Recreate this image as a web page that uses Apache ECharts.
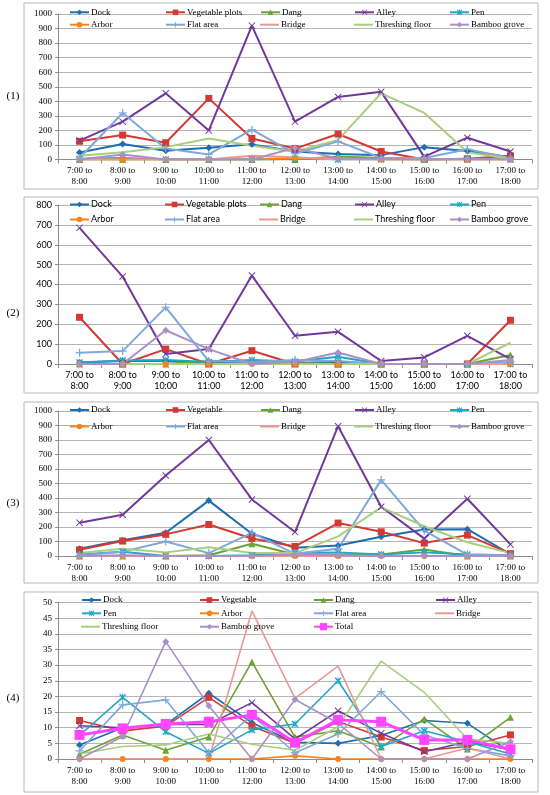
<!DOCTYPE html>
<html><head><meta charset="utf-8">
<script src="https://cdn.jsdelivr.net/npm/echarts@6/dist/echarts.min.js"></script>
<style>html,body{margin:0;padding:0;background:#fff}#c{width:550px;height:795px}</style>
</head><body><div id="c"></div>
<script>
// ---------- categories ----------
const categories = ['7:00 to\n8:00','8:00 to\n9:00','9:00 to\n10:00','10:00 to\n11:00','11:00 to\n12:00','12:00 to\n13:00','13:00 to\n14:00','14:00 to\n15:00','15:00 to\n16:00','16:00 to\n17:00','17:00 to\n18:00'];
const panelLabels = ['(1)','(2)','(3)','(4)'];
const yTicks1 = [0,100,200,300,400,500,600,700,800,900,1000];
const yTicks2 = [0,100,200,300,400,500,600,700,800];
const yTicks3 = [0,100,200,300,400,500,600,700,800,900,1000];
const yTicks4 = [0,5,10,15,20,25,30,35,40,45,50];

// ---------- panel (1) ----------
const p1Dock      = [48,106,60,80,104,55,37,30,85,58,15];
const p1Vegetable = [125,168,115,420,145,75,175,55,0,5,25];
const p1Dang      = [0,0,0,0,0,0,20,10,0,5,5];
const p1Alley     = [130,260,455,200,920,260,430,465,20,150,55];
const p1Pen       = [5,10,0,0,0,5,0,0,0,0,0];
const p1Arbor     = [0,0,0,0,0,10,8,0,0,0,0];
const p1Flat      = [10,320,75,35,205,40,125,10,10,70,10];
const p1Bridge    = [0,0,0,0,25,15,0,0,0,0,0];
const p1Threshing = [25,50,85,145,95,55,135,455,320,50,5];
const p1Bamboo    = [0,35,0,0,0,80,5,5,0,5,0];

// ---------- panel (2) ----------
const p2Dock      = [8,15,15,5,10,5,10,0,0,0,0];
const p2Vegetable = [235,0,75,0,67,0,0,0,0,0,220];
const p2Dang      = [0,0,0,15,15,5,0,0,0,0,45];
const p2Alley     = [685,440,50,75,445,142,162,15,33,142,25];
const p2Pen       = [8,18,20,10,20,12,37,0,0,0,0];
const p2Arbor     = [0,0,0,0,0,0,0,0,0,0,0];
const p2Flat      = [57,65,285,15,10,20,15,0,0,0,10];
const p2Bridge    = [0,0,0,0,0,0,0,0,0,0,0];
const p2Threshing = [0,0,0,0,0,0,0,0,0,0,107];
const p2Bamboo    = [0,0,170,75,0,10,58,0,0,0,20];

// ---------- panel (3) ----------
const p3Dock      = [50,108,160,382,153,57,73,133,183,185,12];
const p3Vegetable = [43,103,149,217,121,66,227,167,89,144,16];
const p3Dang      = [0,0,0,5,85,10,10,10,45,0,0];
const p3Alley     = [230,285,555,800,390,165,895,340,120,395,80];
const p3Pen       = [10,30,0,0,5,20,25,10,25,10,5];
const p3Arbor     = [0,0,0,0,0,0,0,0,0,0,0];
const p3Flat      = [5,30,100,20,160,15,50,525,175,10,5];
const p3Bridge    = [0,0,0,0,0,0,0,0,0,0,0];
const p3Threshing = [20,50,25,60,20,20,135,335,205,95,20];
const p3Bamboo    = [0,5,0,0,0,10,5,0,0,0,0];

// ---------- panel (4) ----------
const p4Dock      = [4.5,10,11,21,11.6,5.3,5,7.5,12.3,11.4,2.3];
const p4Vegetable = [12.3,9,10.5,19.7,10.5,5,12,7,2.7,4,7.7];
const p4Dang      = [1.5,7.7,2.8,7,31,7,9,3.8,12.8,3.2,13.3];
const p4Alley     = [10.6,10,11,11,18,6.4,15.4,8.2,2.3,5.5,3];
const p4Pen       = [7.5,19.7,8.7,1.8,9.3,11.2,25,4,9,5.5,1.6];
const p4Arbor     = [0,0,0,0,0,1,0,0,0,0,0];
const p4Flat      = [2.6,17.3,18.9,2,14,2,8,21.5,7.7,3.4,1];
const p4Bridge    = [0,0,0,0,47.3,19.4,29.7,0,0,3.5,0];
const p4Threshing = [1.6,4,4.5,8,4.7,2.8,10.3,31.3,21.3,6.4,5];
const p4Bamboo    = [0,7.2,37.5,17,0,19,11.4,0,0,0,5.5];
const p4Total     = [7.7,9.8,11.2,11.9,14.1,5.2,12.5,11.9,6.1,6.1,3.1];

// ---------- styles ----------
const SYM_X = 'path://M0,1L1,0L5,4L9,0L10,1L6,5L10,9L9,10L5,6L1,10L0,9L4,5Z';
const SYM_AST = 'path://M0,1.5L1.5,0L5,3.5L8.5,0L10,1.5L6.5,5L10,8.5L8.5,10L5,6.5L1.5,10L0,8.5L3.5,5Z M4.3,0L5.7,0L5.7,10L4.3,10Z';
const SYM_PLUS = 'path://M4.2,0L5.8,0L5.8,4.2L10,4.2L10,5.8L5.8,5.8L5.8,10L4.2,10L4.2,5.8L0,5.8L0,4.2L4.2,4.2Z';
const STY = {
  dock:{color:'#1d6db4',symbol:'diamond',size:7},
  veg:{color:'#d23a33',symbol:'rect',size:7},
  dang:{color:'#6aa436',symbol:'triangle',size:7},
  alley:{color:'#70389c',symbol:SYM_X,size:7},
  pen:{color:'#1fa6c8',symbol:SYM_AST,size:7},
  arbor:{color:'#f5841f',symbol:'circle',size:6},
  flat:{color:'#7ea8dc',symbol:SYM_PLUS,size:8},
  bridge:{color:'#ec9794',symbol:'none',size:0},
  thresh:{color:'#a8cf7c',symbol:'none',size:0},
  bamboo:{color:'#a991c6',symbol:'diamond',size:7},
  total:{color:'#ff45ff',symbol:'rect',size:10}
};

const SERIF = 'Liberation Serif';
const SANS = 'Lato';
const panelFont = [SERIF, SANS, SERIF, SERIF];

// grid layout (px)
const grids = [
  {left:58, right:18, top:14, height:145.5},
  {left:58, right:18, top:205, height:159},
  {left:58, right:18, top:411, height:145},
  {left:58, right:18, top:602.5, height:156.5}
];
const yMax = [1000,800,1000,50];
const yInt = [100,100,100,5];

const panels = [
  [['Dock','dock',p1Dock],['Vegetable plots','veg',p1Vegetable],['Dang','dang',p1Dang],['Alley','alley',p1Alley],['Pen','pen',p1Pen],
   ['Arbor','arbor',p1Arbor],['Flat area','flat',p1Flat],['Bridge','bridge',p1Bridge],['Threshing floor','thresh',p1Threshing],['Bamboo grove','bamboo',p1Bamboo]],
  [['Dock','dock',p2Dock],['Vegetable plots','veg',p2Vegetable],['Dang','dang',p2Dang],['Alley','alley',p2Alley],['Pen','pen',p2Pen],
   ['Arbor','arbor',p2Arbor],['Flat area','flat',p2Flat],['Bridge','bridge',p2Bridge],['Threshing floor','thresh',p2Threshing],['Bamboo grove','bamboo',p2Bamboo]],
  [['Dock','dock',p3Dock],['Vegetable','veg',p3Vegetable],['Dang','dang',p3Dang],['Alley','alley',p3Alley],['Pen','pen',p3Pen],
   ['Arbor','arbor',p3Arbor],['Flat area','flat',p3Flat],['Bridge','bridge',p3Bridge],['Threshing floor','thresh',p3Threshing],['Bamboo grove','bamboo',p3Bamboo]],
  [['Dock','dock',p4Dock],['Vegetable','veg',p4Vegetable],['Dang','dang',p4Dang],['Alley','alley',p4Alley],['Pen','pen',p4Pen],
   ['Arbor','arbor',p4Arbor],['Flat area','flat',p4Flat],['Bridge','bridge',p4Bridge],['Threshing floor','thresh',p4Threshing],['Bamboo grove','bamboo',p4Bamboo],['Total','total',p4Total]]
];

// legend layout: column x positions, row centre y positions
const legendCols = [[69,165,260,354,449],[69,164,259,354,449],[69,165,260,354,449],[81,199,313,435]];
const legendRows = [[12.3,24.7],[204.5,219.5],[410,426.5],[600,613.3,626.7]];
const boxes = [[24,3,514,186],[24,197,514,196],[24,402,514,181],[24,592,514,200]];
const labelY = [96,313,503,698];

const xAxis=[], yAxis=[], series=[], legend=[], graphic=[];
panels.forEach((items,p)=>{
  const font = panelFont[p];
  xAxis.push({type:'category',gridIndex:p,data:categories,boundaryGap:true,
    axisLine:{lineStyle:{color:'#8c8c8c',width:1}},
    axisTick:{show:true,alignWithLabel:false,length:4,lineStyle:{color:'#8c8c8c'}},
    axisLabel:{interval:0,fontSize:9,fontFamily:font,color:'#000',lineHeight:11,margin:6},
    splitLine:{show:false}});
  yAxis.push({type:'value',gridIndex:p,min:0,max:yMax[p],interval:yInt[p],
    axisLine:{show:true,lineStyle:{color:'#8c8c8c',width:1}},
    axisTick:{show:true,length:3,lineStyle:{color:'#8c8c8c'}},
    axisLabel:{fontSize:9,fontFamily:font,color:'#000',margin:6,formatter:v=>String(v)},
    splitLine:{show:true,lineStyle:{color:'#b4b4b4',width:1}}});
  const cols = legendCols[p].length;
  items.forEach(([name,key,data],i)=>{
    const s = STY[key];
    const isTotal = key==='total';
    const noSym = s.symbol==='none';
    const lw = isTotal?3:(p===3?1.6:2);
    series.push({type:'line',name:name,xAxisIndex:p,yAxisIndex:p,data:data,
      symbol:s.symbol,symbolSize:s.size,showSymbol:!noSym,showAllSymbol:true,
      lineStyle:{color:s.color,width:lw},
      itemStyle:{color:s.color,borderWidth:0},
      z: isTotal?5:2, animation:false, silent:true});
    const col = i % cols, row = Math.floor(i/cols);
    legend.push({data:[noSym?{name:name,icon:'rect'}:name],left:legendCols[p][col],top:legendRows[p][row]-5,
      orient:'horizontal',padding:0,itemGap:0,itemWidth:19,itemHeight:noSym?2:(isTotal?9:7),
      selectedMode:false,
      textStyle:{fontFamily:font,fontSize:9,color:'#000',lineHeight:10,padding:[0,0,0,-3]}});
  });
  const b = boxes[p];
  graphic.push({type:'rect',shape:{x:b[0],y:b[1],width:b[2],height:b[3]},
    style:{fill:'none',stroke:'#b8b8b8',lineWidth:1},z:-1,silent:true});
  graphic.push({type:'text',x:13,y:labelY[p],
    style:{text:panelLabels[p],font:'11px '+SERIF,fill:'#000',textAlign:'center',textVerticalAlign:'middle'},silent:true});
});

const chart = echarts.init(document.getElementById('c'),null,{renderer:'canvas'});
chart.setOption({
  animation:false,
  backgroundColor:'#fff',
  grid:grids,
  xAxis:xAxis,
  yAxis:yAxis,
  legend:legend,
  series:series,
  graphic:graphic
});
</script>
</body></html>
